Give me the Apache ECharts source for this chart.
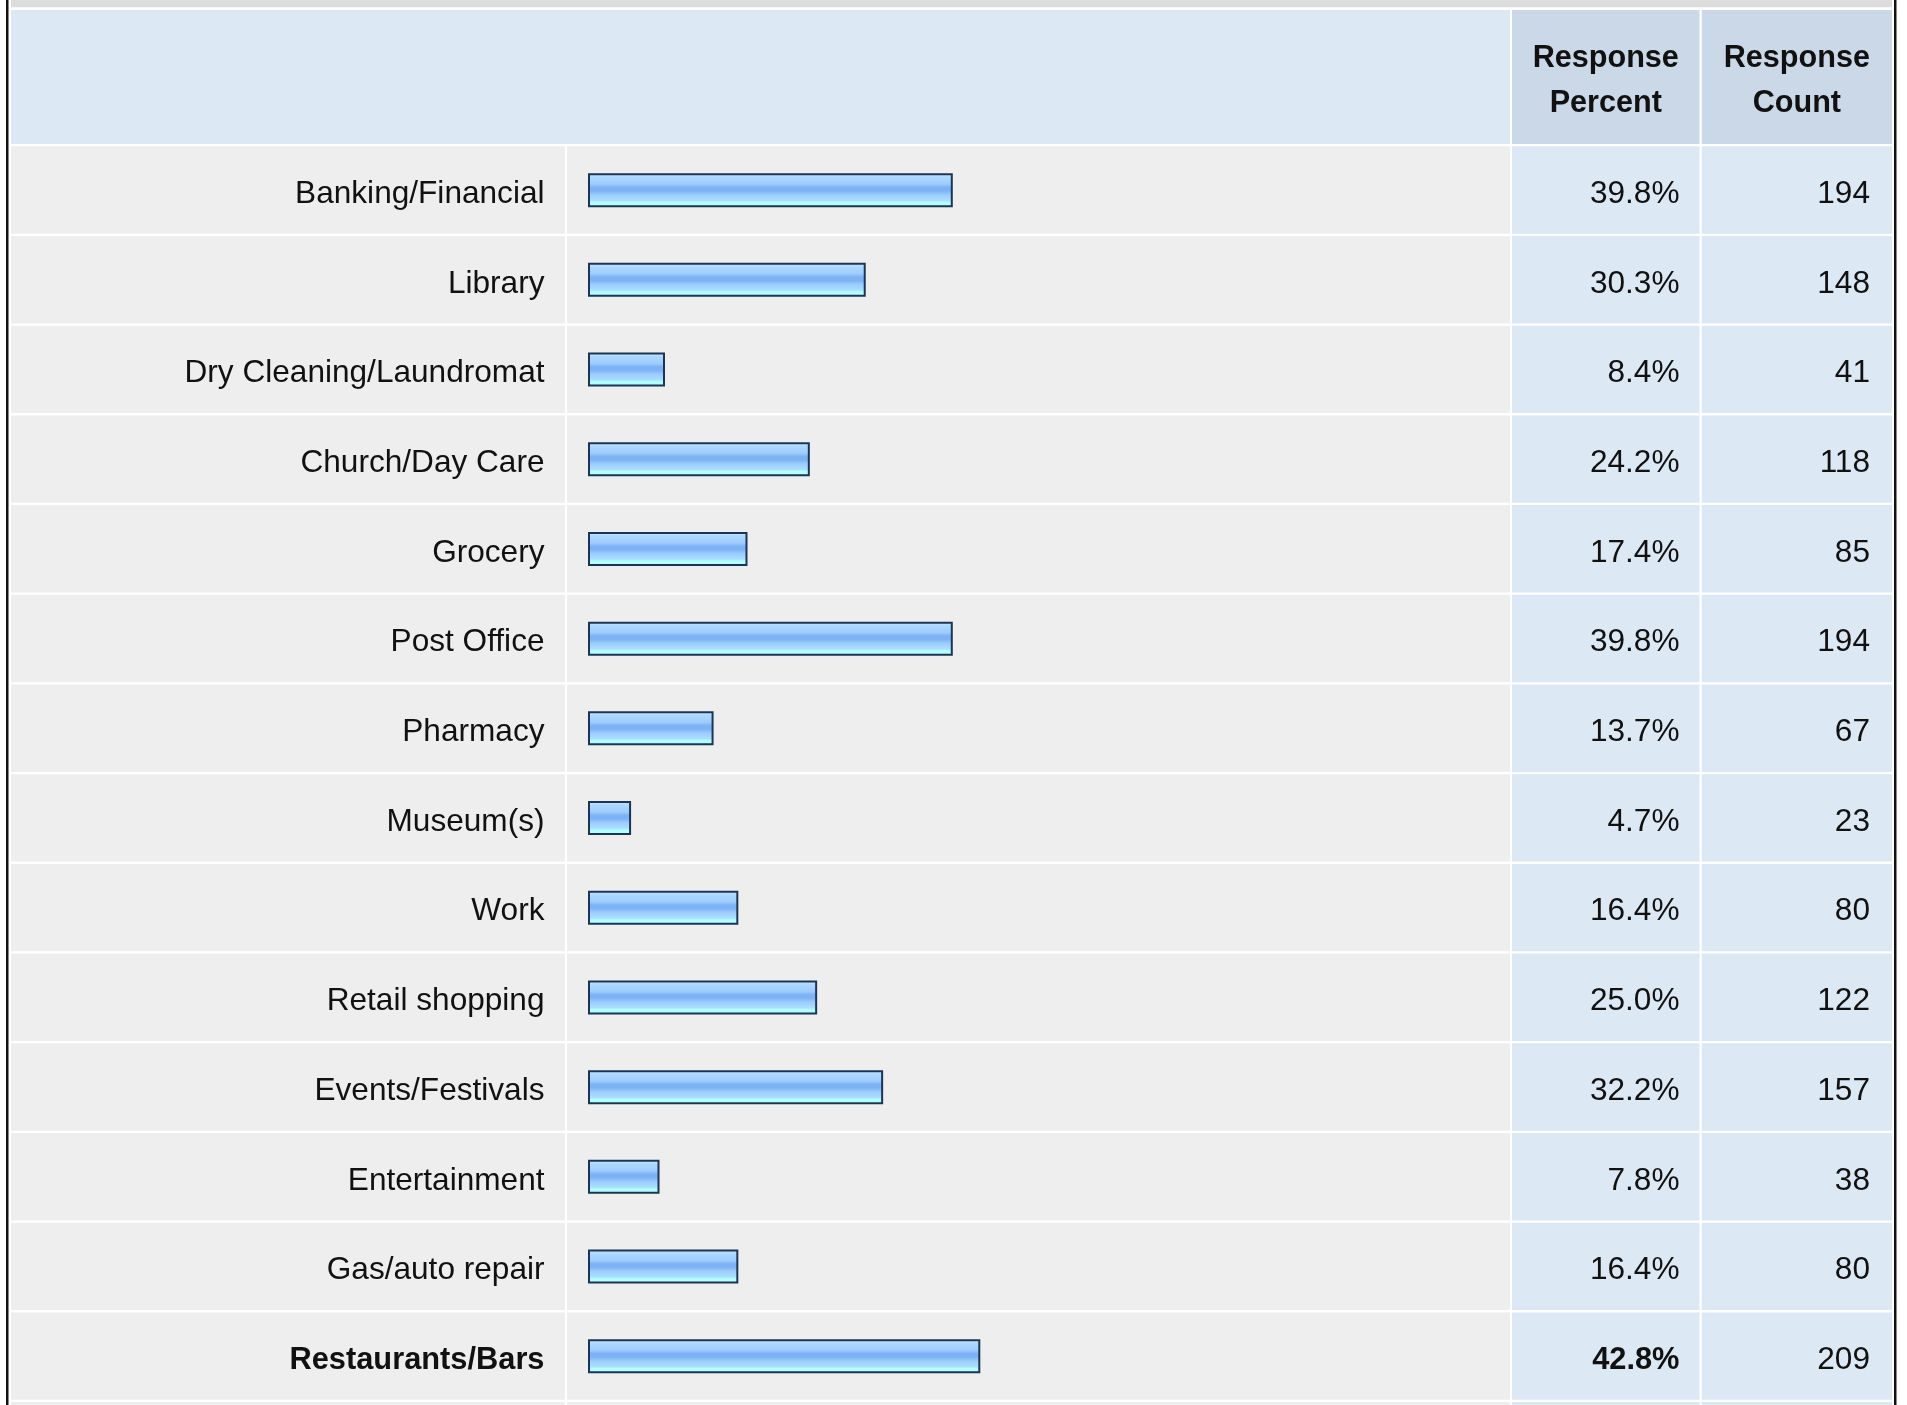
<!DOCTYPE html>
<html>
<head>
<meta charset="utf-8">
<script src="https://cdn.jsdelivr.net/npm/echarts@6/dist/echarts.min.js"></script>
<style>
html,body{margin:0;padding:0;background:#ffffff;}
#c{width:1907px;height:1405px;}
</style>
</head>
<body>
<div id="c"></div>
<script>
const categories = ['Banking/Financial','Library','Dry Cleaning/Laundromat','Church/Day Care','Grocery','Post Office','Pharmacy','Museum(s)','Work','Retail shopping','Events/Festivals','Entertainment','Gas/auto repair','Restaurants/Bars'];
const percents = [39.8,30.3,8.4,24.2,17.4,39.8,13.7,4.7,16.4,25.0,32.2,7.8,16.4,42.8];
const counts = [194,148,41,118,85,194,67,23,80,122,157,38,80,209];
const headerPercent = 'Response\nPercent';
const headerCount = 'Response\nCount';

const FONT = 'Arial, "Liberation Sans", Helvetica, sans-serif';
const FS = 31.6, FSB = 30.8;
const ROW_TOP = 145.3, PITCH = 89.7, GAP = 2.3;
const COLS = [[11,565],[567,1510],[1512,1699.5],[1701.7,1892]];
const GRAY = '#eeeeee', BLUE = '#dde8f5', HBLUE = '#cbd8e7';
const n = categories.length;
const maxIdx = percents.indexOf(Math.max(...percents));

const graphics = [];
graphics.push({type:'rect', z:0, shape:{x:11,y:0,width:1881,height:7.3}, style:{fill:'#dcdcdc'}});
graphics.push({type:'rect', z:0, shape:{x:11,y:10,width:1499,height:134}, style:{fill:BLUE}});
graphics.push({type:'rect', z:0, shape:{x:COLS[2][0],y:10,width:COLS[2][1]-COLS[2][0],height:134}, style:{fill:HBLUE}});
graphics.push({type:'rect', z:0, shape:{x:COLS[3][0],y:10,width:COLS[3][1]-COLS[3][0],height:134}, style:{fill:HBLUE}});
for (let k = 0; k <= n; k++) {
  const y = ROW_TOP + k*PITCH + 1;
  COLS.forEach((c, j) => {
    graphics.push({type:'rect', z:0, shape:{x:c[0],y:y,width:c[1]-c[0],height:PITCH-GAP}, style:{fill: j<2 ? GRAY : BLUE}});
  });
}
graphics.push({type:'rect', z:1, shape:{x:6,y:0,width:2.5,height:1405}, style:{fill:'#111111'}});
graphics.push({type:'rect', z:1, shape:{x:1894,y:0,width:2.5,height:1405}, style:{fill:'#111111'}});
graphics.push({type:'text', z:3, style:{x:(COLS[2][0]+COLS[2][1])/2, y:81, text:headerPercent, textAlign:'center', textVerticalAlign:'middle', font:'bold 30.6px '+FONT, lineHeight:45, fill:'#111111'}});
graphics.push({type:'text', z:3, style:{x:(COLS[3][0]+COLS[3][1])/2, y:81, text:headerCount, textAlign:'center', textVerticalAlign:'middle', font:'bold 30.6px '+FONT, lineHeight:45, fill:'#111111'}});

const rich = {
  n:{fontFamily:FONT, fontSize:FS, color:'#111111', padding:[8,0,0,0]},
  b:{fontFamily:FONT, fontSize:FSB, color:'#111111', fontWeight:'bold', padding:[8,0,0,0]}
};
const hidden = {axisLine:{show:false}, axisTick:{show:false}, splitLine:{show:false}};

const chart = echarts.init(document.getElementById('c'), null, {renderer:'canvas'});
chart.setOption({
  animation:false,
  backgroundColor:'#ffffff',
  graphic: graphics,
  grid:{left:588, width:912, top:ROW_TOP, height:PITCH*n},
  xAxis:{type:'value', min:0, max:99.5, show:false},
  yAxis:[
    Object.assign({type:'category', data:categories, inverse:true, position:'left',
      axisLabel:{margin:43.5, align:'right', rich:rich,
        formatter:(v,i)=> i===maxIdx ? '{b|'+v+'}' : '{n|'+v+'}'}}, hidden),
    Object.assign({type:'category', data:percents.map(p=>p.toFixed(1)+'%'), inverse:true, position:'right',
      axisLabel:{margin:179.5, align:'right', rich:rich,
        formatter:(v,i)=> i===maxIdx ? '{b|'+v+'}' : '{n|'+v+'}'}}, hidden),
    Object.assign({type:'category', data:counts.map(String), inverse:true, position:'right',
      axisLabel:{margin:370, align:'right', rich:rich, formatter:(v)=>'{n|'+v+'}'}}, hidden)
  ],
  series:[{
    type:'bar',
    data:percents,
    barWidth:34,
    z:5,
    itemStyle:{
      borderColor:'#1c3557',
      borderWidth:2,
      color:new echarts.graphic.LinearGradient(0,0,0,1,[
        {offset:0, color:'#d2ecff'},
        {offset:0.12, color:'#acd8ff'},
        {offset:0.32, color:'#9fccff'},
        {offset:0.42, color:'#7db3f4'},
        {offset:0.52, color:'#7db3f4'},
        {offset:0.64, color:'#9ccdff'},
        {offset:0.8, color:'#aadeff'},
        {offset:0.86, color:'#b2ffff'},
        {offset:1, color:'#b2ffff'}
      ])
    }
  }]
});
</script>
</body>
</html>
